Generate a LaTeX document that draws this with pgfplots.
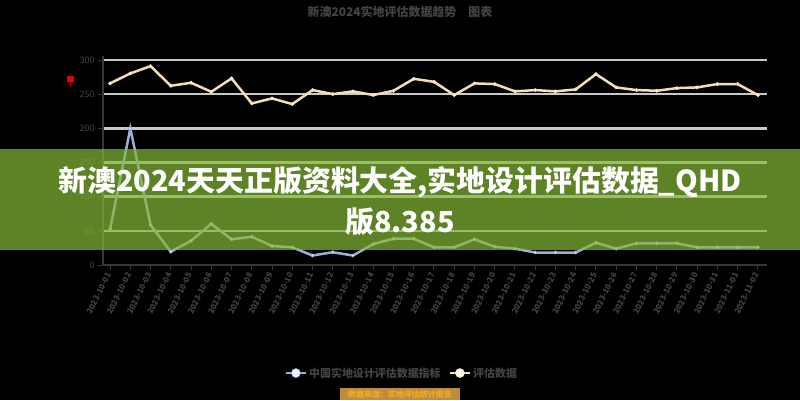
\documentclass[border=0pt]{standalone}
\usepackage{fontspec}
\setmainfont{Noto Sans CJK SC}
\usepackage{pgfplots}
\pgfplotsset{compat=1.18}

\definecolor{cream}{RGB}{245,222,179}
\definecolor{creamdot}{RGB}{255,246,228}
\definecolor{bluel}{RGB}{155,178,214}
\definecolor{bluedot}{RGB}{236,242,252}
\definecolor{gridc}{RGB}{200,200,200}
\definecolor{txtc}{RGB}{68,68,68}
\definecolor{axc}{RGB}{55,55,55}
\definecolor{banner}{RGB}{135,186,55}
\definecolor{tagbg}{RGB}{190,140,60}
\definecolor{tagtx}{RGB}{240,170,40}

\pgfplotstableread{
x  v
0  265.9
1  280.5
2  291.2
3  262.4
4  266.8
5  253.6
6  273.2
7  236.6
8  243.9
9  235.6
10 256.1
11 250.2
12 254.2
13 248.8
14 255.1
15 272.6
16 268.2
17 248.8
18 265.9
19 264.9
20 254.2
21 256.1
22 254.2
23 257.1
24 279.5
25 260.0
26 256.1
27 255.1
28 259.0
29 260.0
30 264.9
31 264.9
32 248.8
}\creamdata

\pgfplotstableread{
x  v
0  52.7
1  200.0
2  58.5
3  19.5
4  35.4
5  60.3
6  37.6
7  41.4
8  27.8
9  25.9
10 13.9
11 18.7
12 13.9
13 30.7
14 38.5
15 38.5
16 25.9
17 25.9
18 37.6
19 26.8
20 23.9
21 18.3
22 18.3
23 18.3
24 32.6
25 23.9
26 31.8
27 31.8
28 31.8
29 25.9
30 25.9
31 25.9
32 25.9
}\bluedata

\begin{document}
\begin{tikzpicture}[x=1bp,y=1bp]
\fill[black] (0,0) rectangle (800,400);
\path[use as bounding box] (0,0) rectangle (800,400);

\node[text=txtc, font=\fontsize{12}{12}\selectfont\bfseries] at (400,388) {新澳2024实地评估数据趋势\quad 图表};

\begin{axis}[
  at={(103bp,135bp)}, anchor=south west,
  scale only axis, width=664bp, height=209bp,
  xmin=-0.35, xmax=32.45, ymin=0, ymax=306,
  axis lines*=left,
  axis line style={axc, line width=1.5bp},
  ytick={0,50,...,300},
  ymajorgrids,
  grid style={gridc, line width=2.5bp},
  tick align=outside,
  major tick length=5bp,
  tick style={axc, line width=1bp},
  /pgf/number format/assume math mode=true,
  yticklabel style={text=txtc, font=\fontsize{9}{9}\selectfont},
  xtick={0,...,32},
  xticklabels={2023-10-01,2023-10-02,2023-10-03,2023-10-04,2023-10-05,2023-10-06,2023-10-07,2023-10-08,2023-10-09,2023-10-10,2023-10-11,2023-10-12,2023-10-13,2023-10-14,2023-10-15,2023-10-16,2023-10-17,2023-10-18,2023-10-19,2023-10-20,2023-10-21,2023-10-22,2023-10-23,2023-10-24,2023-10-25,2023-10-26,2023-10-27,2023-10-28,2023-10-29,2023-10-30,2023-10-31,2023-11-01,2023-11-02},
  xticklabel style={rotate=64, anchor=east, text=txtc, font=\fontsize{8}{8}\selectfont\bfseries},
  legend columns=2,
  legend style={at={(0.45,-0.517)}, anchor=center, draw=none, fill=none,
    text=txtc, font=\fontsize{11}{11}\selectfont\bfseries,
    /tikz/every even column/.append style={column sep=6bp}},
  legend image code/.code={
    \draw[#1, mark=none] (0bp,0bp) -- (20bp,0bp);
    \draw[#1, mark size=4.5bp, line width=1bp] plot coordinates {(10bp,0bp)};
  },
  clip=false,
]
\addplot[bluel, line width=2.5bp, mark=*, mark size=1.6bp,
  mark options={fill=bluedot, draw=bluel, line width=0.6bp}] table[x=x, y=v] {\bluedata};
\addlegendentry{中国实地设计评估数据指标}
\addplot[cream, line width=2.5bp, mark=*, mark size=1.6bp,
  mark options={fill=creamdot, draw=cream, line width=0.6bp}] table[x=x, y=v] {\creamdata};
\addlegendentry{评估数据}
\end{axis}

\fill[red!90!black] (67,318) rectangle (74,324);
\draw[red!80!black, line width=1bp] (70,318) -- (70,313);

\fill[banner, opacity=0.7] (0,150) rectangle (800,251);
\node[text=white, font=\fontsize{29}{29}\selectfont\bfseries] at (400,218) {新澳2024天天正版资料大全,实地设计评估数据\_QHD};
\node[text=white, font=\fontsize{29}{29}\selectfont\bfseries] at (400,178) {版8.385};

\node[fill=tagbg, text=tagtx, font=\fontsize{8}{8}\selectfont\bfseries,
  minimum width=120bp, minimum height=12bp, inner sep=0pt] at (400,6) {数据来源：实地评估统计报告};
\end{tikzpicture}
\end{document}
